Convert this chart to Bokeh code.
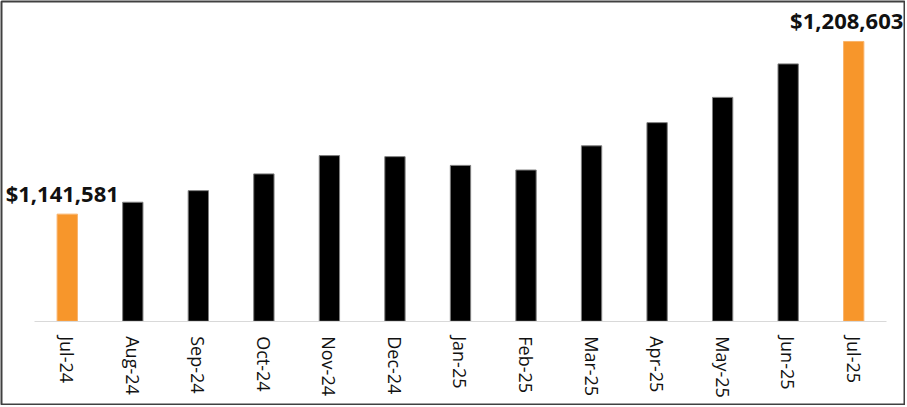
import math
from bokeh.plotting import figure
from bokeh.models import ColumnDataSource, Range1d, FixedTicker
from bokeh.core.properties import value
from bokeh.embed import file_html
from bokeh.resources import INLINE

# ---- data ----
months = ["Jul-24", "Aug-24", "Sep-24", "Oct-24", "Nov-24", "Dec-24", "Jan-25",
          "Feb-25", "Mar-25", "Apr-25", "May-25", "Jun-25", "Jul-25"]
values = [1141581, 1146200, 1150700, 1157200, 1164300, 1163900, 1160500,
          1158700, 1168100, 1177100, 1186900, 1199900, 1208603]
highlight = [0, 12]          # bars shown in orange and labelled
axis_min = 1100000

ORANGE = "#F7962B"
BLACK = "#000000"

idx = list(range(len(months)))
colors = [ORANGE if i in highlight else BLACK for i in idx]
edges = ["#F9B36A" if i in highlight else "#7f7f7f" for i in idx]

src = ColumnDataSource(dict(x=idx, top=values, color=colors, edge=edges))

lab_x = [idx[i] for i in highlight]
lab_y = [values[i] for i in highlight]
lab_t = ["${:,}".format(values[i]) for i in highlight]
lab_src = ColumnDataSource(dict(x=lab_x, y=lab_y, t=lab_t, dx=[-5, -7]))

p = figure(width=905, height=405, output_backend="svg", toolbar_location=None,
           x_range=Range1d(-1.0035, 12.775), y_range=Range1d(1067680, 1224123),
           min_border_left=1, min_border_right=1, min_border_top=1, min_border_bottom=1,
           y_axis_location=None)

p.vbar(x="x", top="top", bottom=axis_min, width=0.31, fill_color="color",
       line_color="edge", line_width=1, source=src)

p.text(x="x", y="y", text="t", source=lab_src, x_offset="dx", y_offset=-21,
       text_align="center", text_baseline="alphabetic",
       text_font=value("Open Sans"), text_font_style="bold",
       text_font_size="22px", text_color="#111111")

ax = p.xaxis[0]
ax.fixed_location = axis_min
ax.bounds = (-0.5, 12.5)
ax.ticker = FixedTicker(ticks=idx)
ax.major_label_overrides = {i: m for i, m in zip(idx, months)}
ax.major_label_orientation = -math.pi / 2
ax.major_label_text_font = "Open Sans"
ax.major_label_text_font_size = "18px"
ax.major_label_text_color = "#111111"
ax.major_label_standoff = 9
ax.major_tick_line_color = None
ax.minor_tick_line_color = None
ax.axis_line_color = "#d9d9d9"
ax.axis_line_width = 1

p.xgrid.grid_line_color = None
p.ygrid.grid_line_color = None
p.outline_line_color = "#404040"
p.outline_line_width = 2
p.background_fill_color = "white"
p.border_fill_color = "white"

html = file_html(p, INLINE)
html = html.replace("</head>", "<style>html,body{margin:0;padding:0;}</style></head>", 1)
open("out.html", "w").write(html)
